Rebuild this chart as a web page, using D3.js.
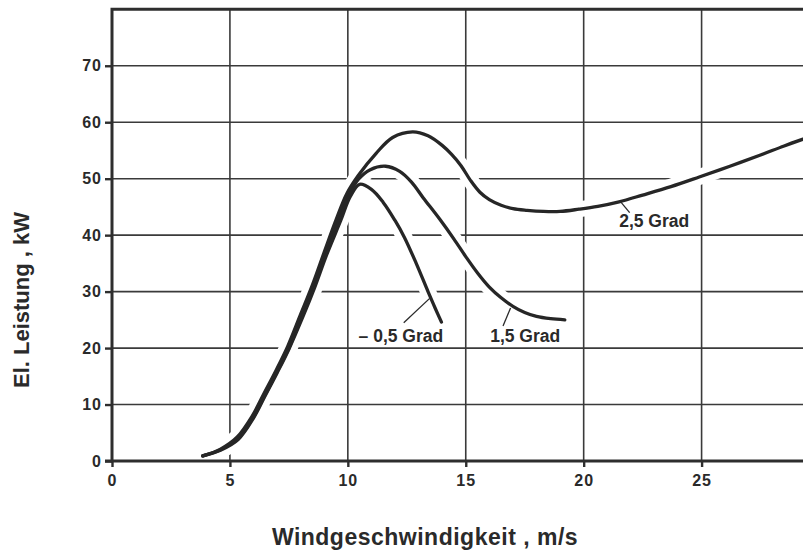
<!DOCTYPE html>
<html>
<head>
<meta charset="utf-8">
<script src="https://cdn.jsdelivr.net/npm/d3@7"></script>
<style>
  html, body { margin: 0; padding: 0; background: #fff; }
  svg { display: block; }
  .grid line { stroke: #3a3a3a; stroke-width: 1.6; }
  .halo { fill: none; stroke: #fff; stroke-width: 16; stroke-linecap: round; }
  .curve { fill: none; stroke: #262626; stroke-width: 3.3; stroke-linecap: round; stroke-linejoin: round; }
  .frame { fill: none; stroke: #2e2e2e; stroke-width: 3; }
  .axis text { font-family: "Liberation Sans", Arial, sans-serif; font-weight: bold; font-size: 16px; letter-spacing: 1px; fill: #2a2a2a; }
  .axis line { stroke: #2e2e2e; stroke-width: 2.4; }
  .axis path { display: none; }
  .title { font-family: "Liberation Sans", Arial, sans-serif; font-weight: bold; font-size: 22px; fill: #2a2a2a; }
  .note text { font-family: "Liberation Sans", Arial, sans-serif; font-weight: bold; font-size: 17.5px; fill: #2a2a2a; }
  .note line { stroke: #2a2a2a; stroke-width: 1.3; }
</style>
</head>
<body>
<script>
(function () {
  "use strict";

  // Windgeschwindigkeit (m/s) / El. Leistung (kW)
  var serMinus05 = [
    [3.85, 0.9], [4.6, 1.9], [5.35, 3.8], [6.0, 7.6], [6.5, 11.6], [7.0, 15.6],
    [7.5, 19.8], [8.1, 25.6], [8.6, 30.8], [9.1, 36.5], [9.7, 42.6], [10.1, 46.8],
    [10.5, 49.0], [11.0, 48.1], [11.5, 45.8], [12.0, 42.6], [12.4, 39.6],
    [12.9, 35.0], [13.4, 30.0], [13.7, 27.1], [13.97, 24.6]
  ];
  var ser15 = [
    [3.85, 0.9], [4.6, 2.0], [5.35, 4.0], [6.0, 7.8], [6.5, 11.8], [7.0, 15.8],
    [7.5, 20.0], [8.05, 25.6], [8.55, 30.8], [9.05, 36.5], [9.6, 42.8], [10.0, 46.8],
    [10.45, 49.9], [10.95, 51.6], [11.6, 52.2], [12.2, 51.3], [12.7, 49.4],
    [13.2, 46.6], [13.9, 42.8], [14.5, 39.3], [15.0, 36.2], [15.5, 33.3],
    [16.0, 30.8], [16.5, 28.9], [17.0, 27.4], [17.5, 26.3], [18.0, 25.6],
    [18.6, 25.2], [19.2, 25.0]
  ];
  var ser25 = [
    [3.85, 0.9], [4.6, 2.1], [5.3, 4.2], [5.95, 8.0], [6.45, 12.0], [6.95, 16.0],
    [7.45, 20.3], [8.0, 26.0], [8.5, 31.2], [9.0, 37.0], [9.5, 42.7], [9.95, 47.3],
    [10.45, 50.6], [11.2, 54.5], [11.9, 57.3], [12.75, 58.3], [13.4, 57.6],
    [14.0, 55.9], [14.4, 54.3], [14.8, 52.3], [15.2, 49.7], [15.6, 47.6],
    [16.0, 46.3], [16.5, 45.3], [17.0, 44.7], [17.6, 44.4], [18.3, 44.2],
    [19.0, 44.2], [19.8, 44.6], [20.6, 45.1], [21.5, 45.9], [22.5, 47.1],
    [23.7, 48.6], [24.9, 50.3], [26.2, 52.2], [27.5, 54.2], [28.5, 55.8], [29.3, 57.0]
  ];

  var xTicks = [0, 5, 10, 15, 20, 25];
  var yTicks = [0, 10, 20, 30, 40, 50, 60, 70];
  var xGrid = [5, 10, 15, 20, 25];
  var yGrid = [10, 20, 30, 40, 50, 60, 70];

  // Beschriftung: Text, Punkt auf der Kurve, Fuss der Hinweislinie, Textposition
  var notes = [
    { label: "\u2013 0,5 Grad", at: [13.47, 28.8], foot: [12.37, 24.5], text: [12.25, 21.1] },
    { label: "1,5 Grad", at: [16.9, 27.1], foot: [16.58, 23.9], text: [17.52, 21.1] },
    { label: "2,5 Grad", at: [21.57, 45.9], foot: [21.95, 44.0], text: [22.99, 41.4] }
  ];

  var width = 803, height = 551,
    left = 112, top = 9.3, bottom = 461, right = 803,
    svg, x, y, line, plot;

  svg = d3.select("body").append("svg")
    .attr("width", width)
    .attr("height", height);

  x = d3.scaleLinear().domain([0, 29.3]).range([left, right]);
  y = d3.scaleLinear().domain([0, 80]).range([bottom, top]);

  line = d3.line()
    .x(function (d) { return x(d[0]); })
    .y(function (d) { return y(d[1]); })
    .curve(d3.curveCatmullRom.alpha(0.5));

  // gitter
  plot = svg.append("g").attr("class", "grid");
  plot.selectAll(".v")
    .data(xGrid)
    .enter().append("line")
    .attr("class", "v")
    .attr("x1", function (d) { return x(d); })
    .attr("x2", function (d) { return x(d); })
    .attr("y1", y(80))
    .attr("y2", y(0));
  plot.selectAll(".h")
    .data(yGrid)
    .enter().append("line")
    .attr("class", "h")
    .attr("x1", x(0))
    .attr("x2", x(29.3))
    .attr("y1", function (d) { return y(d); })
    .attr("y2", function (d) { return y(d); });

  var series = [serMinus05, ser15, ser25];

  // weisse Umrandung unterbricht das Gitter an den Kurven
  svg.append("g").selectAll("path")
    .data(series)
    .enter().append("path")
    .attr("class", "halo")
    .attr("d", line);

  // achsen
  svg.append("g")
    .attr("class", "axis")
    .attr("transform", "translate(" + left + ",0)")
    .call(d3.axisLeft(y).tickValues(yTicks).tickSize(7).tickPadding(3)
      .tickFormat(d3.format("d")));

  svg.append("g")
    .attr("class", "axis")
    .attr("transform", "translate(0," + bottom + ")")
    .call(d3.axisBottom(x).tickValues(xTicks).tickSize(6).tickPadding(8)
      .tickFormat(d3.format("d")));

  svg.append("path")
    .attr("class", "frame")
    .attr("d", "M" + x(29.3) + "," + y(80) + "H" + x(0) + "V" + y(0) + "H" + x(29.3));
  svg.append("line")
    .attr("class", "frame")
    .attr("x1", x(0) - 7).attr("x2", x(0))
    .attr("y1", y(0)).attr("y2", y(0));

  // kurven
  svg.append("g").selectAll("path")
    .data(series)
    .enter().append("path")
    .attr("class", "curve")
    .attr("d", line);

  // hinweise
  var note = svg.append("g").attr("class", "note")
    .selectAll("g")
    .data(notes)
    .enter().append("g");
  note.append("line")
    .attr("x1", function (d) { return x(d.at[0]); })
    .attr("y1", function (d) { return y(d.at[1]); })
    .attr("x2", function (d) { return x(d.foot[0]); })
    .attr("y2", function (d) { return y(d.foot[1]); });
  note.append("text")
    .attr("x", function (d) { return x(d.text[0]); })
    .attr("y", function (d) { return y(d.text[1]); })
    .attr("text-anchor", "middle")
    .text(function (d) { return d.label; });

  // titel
  svg.append("text")
    .attr("class", "title")
    .attr("text-anchor", "middle")
    .attr("transform", "translate(29,300) rotate(-90)")
    .text("El. Leistung , kW");

  svg.append("text")
    .attr("class", "title")
    .attr("text-anchor", "middle")
    .attr("x", 425)
    .attr("y", 545)
    .style("font-size", "23px")
    .style("letter-spacing", "0.5px")
    .text("Windgeschwindigkeit , m/s");
})();
</script>
</body>
</html>
